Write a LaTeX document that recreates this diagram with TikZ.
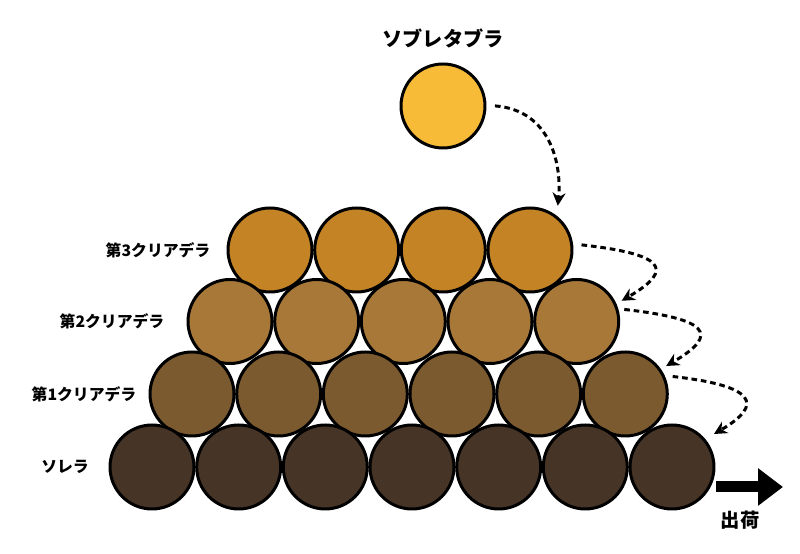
\documentclass[tikz,border=0pt]{standalone}
\usepackage{fontspec}
\usepackage{tikz}
\usetikzlibrary{arrows.meta}
\newfontfamily\jpfont{Noto Sans CJK JP}

\definecolor{sobre}{HTML}{F8BB38}
\definecolor{criathree}{HTML}{C48426}
\definecolor{criatwo}{HTML}{A87839}
\definecolor{criaone}{HTML}{7B5A2F}
\definecolor{solera}{HTML}{463426}

\begin{document}
\begin{tikzpicture}[x=0.2cm, y=0.2cm,
	barrel/.style={circle, draw, line width=1.7pt, minimum size=1.68cm, inner sep=0pt},
	rowlabel/.style={font=\jpfont\bfseries\fontsize{9}{10}\selectfont},
	flow/.style={line width=1.7pt, dash pattern=on 3.2pt off 2.2pt, -{Stealth[length=2.6mm, width=2.6mm]}}]
								\useasboundingbox (0, 0) rectangle (80, 55.4);
								\node[barrel, fill=sobre] (t) at (44.3, 44.8) {};
								\node[barrel, fill=criathree] (r1) at (27.0, 30.4) {};
								\node[barrel, fill=criathree] (r2) at (35.67, 30.4) {};
								\node[barrel, fill=criathree] (r3) at (44.33, 30.4) {};
								\node[barrel, fill=criathree] (r4) at (53.0, 30.4) {};
								\node[barrel, fill=criatwo] (q1) at (23.0, 23.25) {};
								\node[barrel, fill=criatwo] (q2) at (31.67, 23.25) {};
								\node[barrel, fill=criatwo] (q3) at (40.33, 23.25) {};
								\node[barrel, fill=criatwo] (q4) at (49.0, 23.25) {};
								\node[barrel, fill=criatwo] (q5) at (57.67, 23.25) {};
								\node[barrel, fill=criaone] (p1) at (19.2, 16.0) {};
								\node[barrel, fill=criaone] (p2) at (27.87, 16.0) {};
								\node[barrel, fill=criaone] (p3) at (36.53, 16.0) {};
								\node[barrel, fill=criaone] (p4) at (45.2, 16.0) {};
								\node[barrel, fill=criaone] (p5) at (53.87, 16.0) {};
								\node[barrel, fill=criaone] (p6) at (62.53, 16.0) {};
								\node[barrel, fill=solera] (s1) at (15.2, 8.7) {};
								\node[barrel, fill=solera] (s2) at (23.87, 8.7) {};
								\node[barrel, fill=solera] (s3) at (32.53, 8.7) {};
								\node[barrel, fill=solera] (s4) at (41.2, 8.7) {};
								\node[barrel, fill=solera] (s5) at (49.87, 8.7) {};
								\node[barrel, fill=solera] (s6) at (58.53, 8.7) {};
								\node[barrel, fill=solera] (s7) at (67.2, 8.7) {};
								\node[font=\jpfont\bfseries\fontsize{11.5}{13}\selectfont] (title) at (44.3, 51.6) {ソブレタブラ};
								\node[rowlabel] (lr) at (15.8, 30.4) {第3クリアデラ};
								\node[rowlabel] (lq) at (11.2, 23.25) {第2クリアデラ};
								\node[rowlabel] (lp) at (8.4, 16.0) {第1クリアデラ};
								\node[rowlabel] (ls) at (6.5, 8.7) {ソレラ};
								\node[font=\jpfont\bfseries\fontsize{11}{13}\selectfont] (ship) at (74.0, 3.4) {出荷};
								\coordinate (out0) at (71.6, 6.7);
								\coordinate (out1) at (78.3, 6.7);
								\draw[flow, shorten <=0.17cm, shorten >=0.2cm] (t.1) .. controls +(6.5, -0.5) and +(0.5, 5) .. (r4.52);
								\draw[flow, shorten <=0.17cm, shorten >=0.12cm] (r4.8) .. controls +(9, -1) and +(6, 3.5) .. (q5.24);
								\draw[flow, shorten <=0.12cm, shorten >=0.12cm] (q5.17) .. controls +(9, -1) and +(6, 3.5) .. (p6.35);
								\draw[flow, shorten <=0.16cm, shorten >=0.2cm] (p6.25) .. controls +(9, -1) and +(6, 3.5) .. (s7.40);
								\draw[line width=0.22cm, -{Triangle[length=0.5cm, width=0.72cm]}] (out0) -- (out1);
							\end{tikzpicture}
\end{document}
